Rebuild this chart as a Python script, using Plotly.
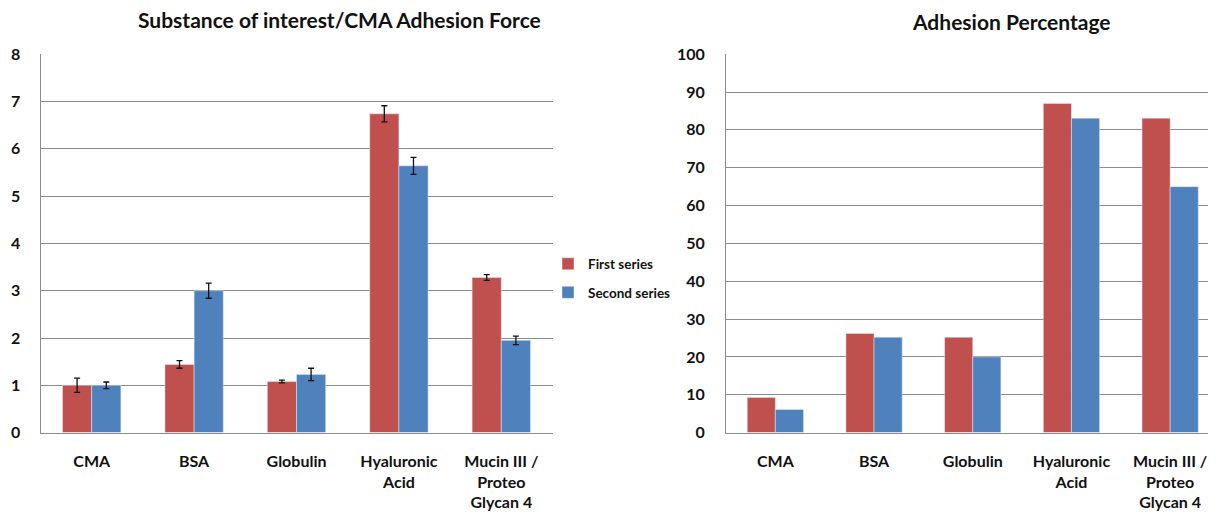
import plotly.graph_objects as go

categories = ["CMA", "BSA", "Globulin", "Hyaluronic<br>Acid", "Mucin III /<br>Proteo<br>Glycan 4"]

# Left chart: Substance of interest/CMA Adhesion Force
force_first = [1.0, 1.44, 1.08, 6.74, 3.28]
force_first_err = [0.15, 0.08, 0.03, 0.17, 0.06]
force_second = [1.0, 3.0, 1.23, 5.64, 1.95]
force_second_err = [0.07, 0.16, 0.13, 0.18, 0.09]

# Right chart: Adhesion Percentage
pct_first = [9.3, 26.2, 25.2, 87.0, 83.1]
pct_second = [6.1, 25.2, 20.0, 83.1, 65.0]

series_names = ["First series", "Second series"]
RED = "#C0504D"
BLUE = "#4F81BD"
GRID = "#8C8C8C"
TXT = "#111111"
FONT = "Lato"

# page body has an 8px margin: the figure is drawn from (8, 8) to (1216, 512)
OFF = 8
W, H = 1216 - OFF, 512 - OFF


def px(x):
    return (x - OFF) / W


def py(y):
    return (512 - y) / H


fig = go.Figure()
err_style = dict(type="data", color="#111111", thickness=1.3, width=3)

fig.add_trace(go.Bar(x=categories, y=force_first, name=series_names[0], marker_color=RED,
                     error_y=dict(array=force_first_err, **err_style),
                     xaxis="x", yaxis="y", legendgroup="a"))
fig.add_trace(go.Bar(x=categories, y=force_second, name=series_names[1], marker_color=BLUE,
                     error_y=dict(array=force_second_err, **err_style),
                     xaxis="x", yaxis="y", legendgroup="b"))
fig.add_trace(go.Bar(x=categories, y=pct_first, name=series_names[0], marker_color=RED,
                     xaxis="x2", yaxis="y2", showlegend=False))
fig.add_trace(go.Bar(x=categories, y=pct_second, name=series_names[1], marker_color=BLUE,
                     xaxis="x2", yaxis="y2", showlegend=False))

ydom = [py(432.6), py(54.2)]
xtickfont = dict(family=FONT, size=16, color=TXT, weight="bold")
ytickfont = dict(family=FONT, size=16, color=TXT, weight="bold")

xcommon = dict(tickfont=xtickfont, showline=True, linecolor=GRID, linewidth=1,
               ticks="outside", ticklen=14, tickcolor="rgba(0,0,0,0)",
               showgrid=False, fixedrange=True, automargin=False)
ycommon = dict(tickfont=ytickfont, showline=True, linecolor=GRID, linewidth=1,
               showgrid=True, gridcolor=GRID, gridwidth=1, zeroline=False,
               ticks="", domain=ydom, automargin=False, fixedrange=True)

fig.update_layout(
    width=W, height=H,
    margin=dict(l=0, r=0, t=0, b=0, autoexpand=False),
    paper_bgcolor="white", plot_bgcolor="white",
    barmode="group", bargap=0.43, bargroupgap=0,
    xaxis=dict(domain=[px(40.5), px(552.5)], range=[-0.5, 4.5], anchor="y", **xcommon),
    yaxis=dict(range=[0, 8], dtick=1, anchor="x", ticklabelstandoff=16, **ycommon),
    xaxis2=dict(domain=[px(726), 1.0], range=[-0.5, -0.5 + 490 / 98.7], anchor="y2", **xcommon),
    yaxis2=dict(range=[0, 100], dtick=10, anchor="x2", ticklabelstandoff=17, **ycommon),
    legend=dict(x=px(548), y=py(278.5), xanchor="left", yanchor="middle",
                font=dict(family=FONT, size=13.5, color=TXT, weight="bold"),
                tracegroupgap=8, traceorder="grouped", itemwidth=30,
                bgcolor="rgba(0,0,0,0)"),
    font=dict(family=FONT),
    annotations=[
        dict(text="<b>Substance of interest/CMA Adhesion Force</b>", x=px(339), y=py(19.5),
             xref="paper", yref="paper", showarrow=False, xanchor="center", yanchor="middle",
             font=dict(family=FONT, size=21, color=TXT)),
        dict(text="<b>Adhesion Percentage</b>", x=px(1011), y=py(21),
             xref="paper", yref="paper", showarrow=False, xanchor="center", yanchor="middle",
             font=dict(family=FONT, size=21, color=TXT)),
    ],
)

fig.write_html("out.html")
